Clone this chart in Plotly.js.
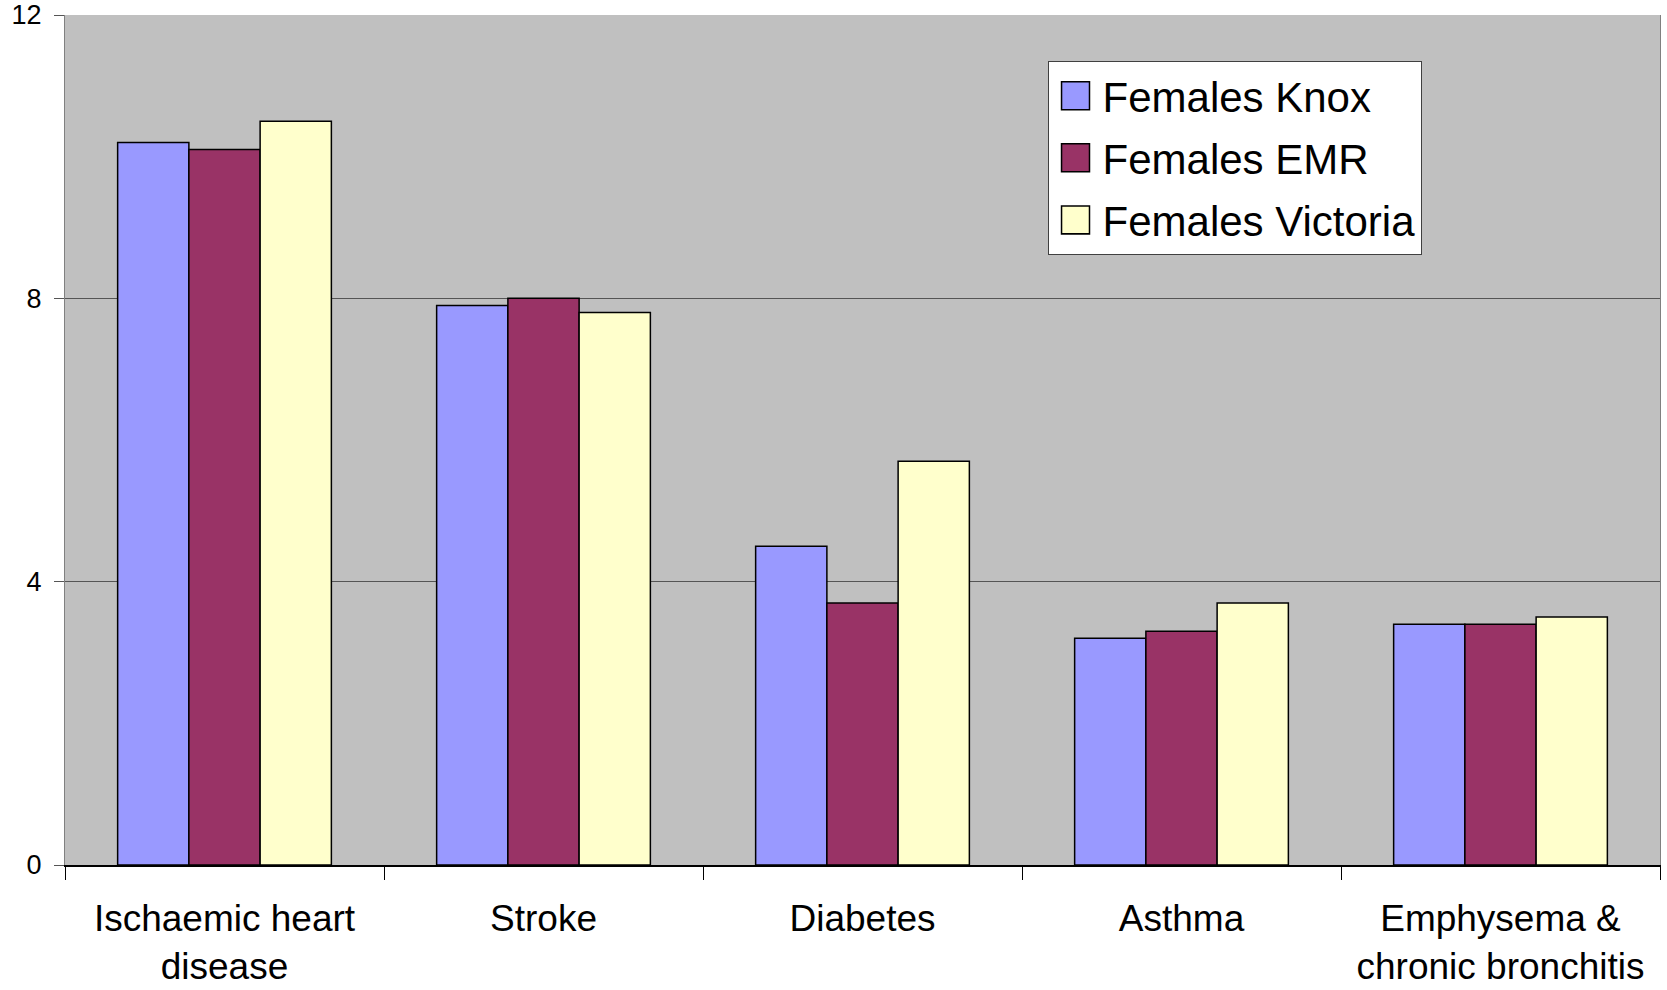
<!DOCTYPE html>
<html><head><meta charset="utf-8">
<script src="https://cdn.plot.ly/plotly-3.0.1.min.js"></script>
<style>html,body{margin:0;padding:0;background:#fff;} #chart{width:1667px;height:990px;}</style>
</head><body><div id="chart"></div>
<script>
const categories = ["Ischaemic heart<br>disease", "Stroke", "Diabetes", "Asthma", "Emphysema &<br>chronic bronchitis"];
const femalesKnox = [10.2, 7.9, 4.5, 3.2, 3.4];
const femalesEMR = [10.1, 8.0, 3.7, 3.3, 3.4];
const femalesVictoria = [10.5, 7.8, 5.7, 3.7, 3.5];
const seriesNames = ["Females Knox", "Females EMR", "Females Victoria"];
const seriesColors = ["#9999FF", "#993366", "#FFFFCC"];
const yTickValues = [0, 4, 8, 12];

const seriesValues = [femalesKnox, femalesEMR, femalesVictoria];
const font = "Liberation Sans, Arial, sans-serif";

const traces = seriesValues.map((vals, i) => ({
  type: "bar",
  name: seriesNames[i],
  x: categories,
  y: vals,
  legendgroup: "g" + i,
  marker: { color: seriesColors[i], line: { color: "#000000", width: 1.5 } },
  hoverinfo: "x+y+name"
}));

const layout = {
  width: 1667, height: 990,
  margin: { l: 65, r: 7, t: 15, b: 125 },
  paper_bgcolor: "#ffffff",
  plot_bgcolor: "#C0C0C0",
  barmode: "group",
  bargap: 0.33,
  bargroupgap: 0,
  font: { family: font, color: "#000000" },
  showlegend: true,
  legend: {
    x: 0.616, y: 0.946, xanchor: "left", yanchor: "top",
    bgcolor: "#ffffff", bordercolor: "#404040", borderwidth: 1,
    font: { family: font, size: 42, color: "#000000" },
    itemwidth: 44,
    tracegroupgap: 4.5,
    traceorder: "grouped"
  },
  xaxis: {
    type: "category",
    tickson: "boundaries",
    ticks: "outside", ticklen: 13, tickcolor: "#000000", tickwidth: 1,
    showline: true, linecolor: "#000000", linewidth: 1.5,
    showgrid: false,
    ticklabelstandoff: 20,
    tickfont: { family: font, size: 37, color: "#000000" }
  },
  yaxis: {
    range: [0, 12],
    tickmode: "array", tickvals: yTickValues, ticktext: yTickValues.map(String),
    ticks: "outside", ticklen: 10, tickcolor: "#555555", tickwidth: 1,
    showline: true, linecolor: "#808080", linewidth: 1, mirror: true,
    showgrid: true, gridcolor: "#555555", gridwidth: 1,
    zeroline: false,
    ticklabelstandoff: 7,
    tickfont: { family: font, size: 27, color: "#000000" }
  }
};

Plotly.newPlot("chart", traces, layout, { displayModeBar: false, staticPlot: true }).then(() => {
  document.querySelectorAll("#chart .legend .legendpoints path").forEach(p => {
    const t = p.getAttribute("transform") || "";
    p.setAttribute("transform", t + " scale(2.33)");
    p.style.strokeWidth = "0.65px";
  });
});
</script>
</body></html>
